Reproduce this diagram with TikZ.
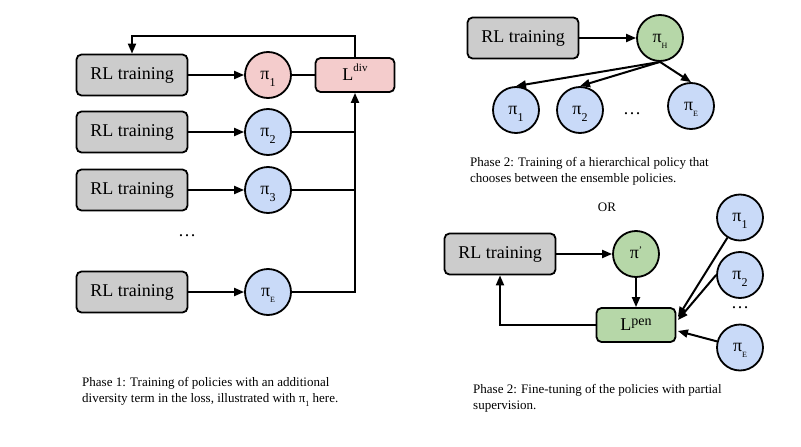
\documentclass[tikz,border=0pt]{standalone}
\usepackage{fontspec}
\setmainfont{Liberation Serif}
\usetikzlibrary{positioning}
\usetikzlibrary{arrows.meta,calc}
\definecolor{rlgray}{HTML}{CCCCCC}
\definecolor{divpink}{HTML}{F4CCCC}
\definecolor{polblue}{HTML}{C9DAF8}
\definecolor{hgreen}{HTML}{B6D7A8}
% Phase 1 columns and rows
\newcommand{\RLX}{132}
\newcommand{\PIX}{268}
\newcommand{\DIVX}{355}
\newcommand{\TOPY}{36}
\newcommand{\ROWA}{75}
\newcommand{\ROWB}{132}
\newcommand{\ROWC}{190}
\newcommand{\ROWE}{292}
% Phase 2 columns
\newcommand{\HX}{660}
\newcommand{\PENX}{636}
\newcommand{\QX}{740}
% sub- and superscripts
\newcommand{\PSUB}[1]{\smash{\raisebox{-7pt}{\fontsize{12}{12}\selectfont #1}}}
\newcommand{\PSUBS}[1]{\smash{\raisebox{-6pt}{\fontsize{8}{8}\selectfont #1}}}
\newcommand{\PPRIME}{\smash{\raisebox{5pt}{\fontsize{10}{10}\selectfont '}}}
\newcommand{\LSUP}[1]{\smash{\raisebox{9pt}{\fontsize{11}{11}\selectfont #1}}}
\newcommand{\LSUPB}[1]{\smash{\raisebox{5pt}{\fontsize{14}{14}\selectfont #1}}}
\newcommand{\CSUB}[1]{\smash{\raisebox{-4pt}{\fontsize{8}{8}\selectfont #1}}}

\begin{document}
\begin{tikzpicture}[x=1pt,y=-1pt,>={Triangle[length=10pt,width=8pt]}]
\tikzstyle{every node}=[font=\fontsize{18}{20}\selectfont]
\tikzstyle{rlbox}=[draw,line width=1.8pt,rounded corners=5pt,fill=rlgray,minimum width=111pt,minimum height=41pt,inner sep=0pt]
\tikzstyle{policy}=[draw,circle,line width=1.8pt,minimum size=46pt,inner sep=0pt]
\tikzstyle{loss}=[draw,line width=1.8pt,rounded corners=5pt,minimum width=79pt,minimum height=34pt,inner sep=0pt]
\tikzstyle{link}=[line width=2pt]
\tikzstyle{caption}=[anchor=base west,align=left,inner sep=0pt,font=\fontsize{13}{16}\selectfont]
\useasboundingbox (0,0) rectangle (801,447);

% Phase 1
	\node[rlbox] (rla) at (\RLX,\ROWA) {RL training};
	\node[rlbox] (rlb) at (\RLX,\ROWB) {RL training};
	\node[rlbox] (rlc) at (\RLX,\ROWC) {RL training};
	\node[rlbox] (rle) at (\RLX,\ROWE) {RL training};
	\node[policy,fill=divpink] (pa) at (\PIX,\ROWA) {π\PSUB{1}};
	\node[policy,fill=polblue] (pb) at (\PIX,\ROWB) {π\PSUB{2}};
	\node[policy,fill=polblue] (pc) at (\PIX,\ROWC) {π\PSUB{3}};
	\node[policy,fill=polblue] (pe) at (\PIX,\ROWE) {π\PSUBS{E}};
	\node[loss,fill=divpink] (div) at (\DIVX,\ROWA) {L\LSUP{div}};
	\node (dotsa) at (187,236) {…};
	\coordinate (top) at (\DIVX,\TOPY);

	\draw[link,->] (rla) -- (pa);
	\draw[link,->] (rlb) -- (pb);
	\draw[link,->] (rlc) -- (pc);
	\draw[link,->] (rle) -- (pe);
	\draw[link] (pa) -- (div);
	\draw[link] (pb) -- (pb -| div);
	\draw[link] (pc) -- (pc -| div);
	\draw[link,->] (pe) -| (div);
	\draw[link,->] (div) -- (top) -| (rla);

	\node[caption] (capa) at (82,402) {Phase 1: Training of policies with an additional\\diversity term in the loss, illustrated with π\CSUB{1} here.};

% Phase 2, hierarchical policy
	\node[rlbox] (rlh) at (523,38) {RL training};
	\node[policy,fill=hgreen] (ph) at (\HX,38) {π\PSUBS{H}};
	\node[policy,fill=polblue] (ha) at (516,110) {π\PSUB{1}};
	\node[policy,fill=polblue] (hb) at (580,110) {π\PSUB{2}};
	\node (dotsb) at (632,114) {…};
	\node[policy,fill=polblue] (he) at (691,106) {π\PSUBS{E}};

	\draw[link,->] (rlh) -- (ph);
	\draw[link,->] (ph.south) -- (ha.north);
	\draw[link,->] (ph.south) -- (hb.north);
	\draw[link,->] (ph.south) -- (he.north);

	\node[caption] (capb) at (470,182) {Phase 2: Training of a hierarchical policy that\\chooses between the ensemble policies.};

	\node[font=\fontsize{13}{14}\selectfont] (or) at (607,207) {OR};

% Phase 2, fine-tuning
	\node[rlbox] (rlp) at (500,254) {RL training};
	\node[policy,fill=hgreen] (pp) at (\PENX,254) {π\PPRIME};
	\node[loss,fill=hgreen] (pen) at (\PENX,325) {L\LSUPB{pen}};
	\node[policy,fill=polblue] (qa) at (\QX,217.5) {π\PSUB{1}};
	\node[policy,fill=polblue] (qb) at (\QX,275) {π\PSUB{2}};
	\node (dotsc) at (\QX,308) {…};
	\node[policy,fill=polblue] (qe) at (\QX,347.5) {π\PSUBS{E}};

	\draw[link,->] (rlp) -- (pp);
	\draw[link,->] (pp) -- (pen);
	\draw[link,->] (pen) -| (rlp);
	\draw[link,->] (qa) -- ([xshift=1.5pt,yshift=8pt]pen.east);
	\draw[link,->] (qb.west) -- ([xshift=1.5pt,yshift=5pt]pen.east);
	\draw[link,->] (qe) -- ([xshift=1.5pt,yshift=-6pt]pen.east);

	\node[caption] (capc) at (473,409) {Phase 2: Fine-tuning of the policies with partial\\supervision.};

\end{tikzpicture}
\end{document}
